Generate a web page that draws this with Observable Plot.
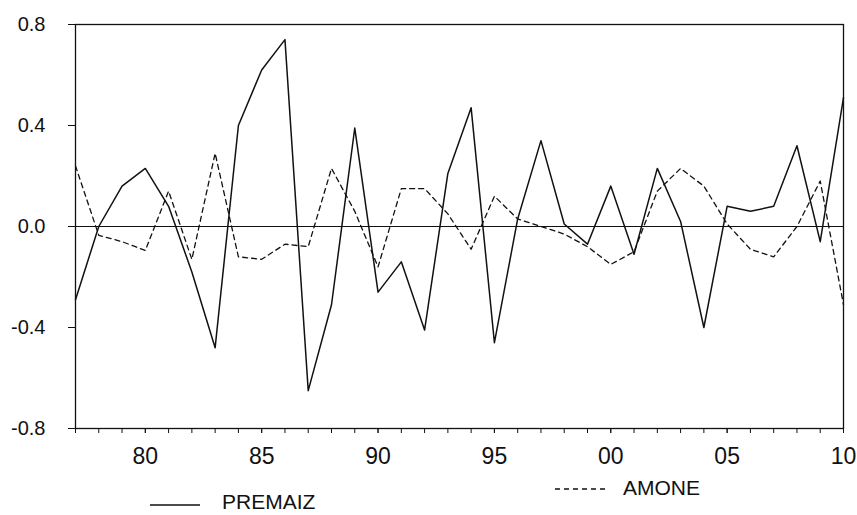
<!DOCTYPE html>
<html><head><meta charset="utf-8">
<script src="https://cdn.jsdelivr.net/npm/d3@7"></script>
<script src="https://cdn.jsdelivr.net/npm/@observablehq/plot@0.6"></script>
<style>
body{margin:0;background:#fff;}
#legend{position:relative;height:45px;width:857px;font-family:"Liberation Sans",Arial,sans-serif;font-size:21px;color:#111;}
#legend .sw{position:absolute;}
#legend .lbl{position:absolute;line-height:1;white-space:nowrap;}
</style>
</head><body>
<div id="chart"></div>
<div id="legend"></div>
<script>
const years = [1977,1978,1979,1980,1981,1982,1983,1984,1985,1986,1987,1988,1989,1990,1991,1992,1993,1994,1995,1996,1997,1998,1999,2000,2001,2002,2003,2004,2005,2006,2007,2008,2009,2010];
const premaiz = [-0.29,0.00,0.16,0.23,0.08,-0.18,-0.48,0.40,0.62,0.74,-0.65,-0.31,0.39,-0.26,-0.14,-0.41,0.21,0.47,-0.46,0.03,0.34,0.01,-0.07,0.16,-0.11,0.23,0.02,-0.40,0.08,0.06,0.08,0.32,-0.06,0.51];
const amone = [0.24,-0.035,-0.06,-0.095,0.14,-0.13,0.29,-0.12,-0.13,-0.07,-0.08,0.23,0.06,-0.16,0.15,0.15,0.05,-0.09,0.12,0.03,0.00,-0.03,-0.08,-0.15,-0.10,0.14,0.23,0.16,0.01,-0.09,-0.12,0.00,0.18,-0.31];
const yTicks = [-0.8,-0.4,0.0,0.4,0.8];
const xLabelTicks = [1980,1985,1990,1995,2000,2005,2010];
const seriesNames = ["PREMAIZ","AMONE"];

const rows = years.map((y,i)=>({year:y, premaiz:premaiz[i], amone:amone[i]}));

const chart = Plot.plot({
  width: 857,
  height: 470,
  marginLeft: 75,
  marginRight: 14,
  marginTop: 24,
  marginBottom: 42,
  style: {fontFamily: "'Liberation Sans', Arial, sans-serif", background: "#fff", color: "#111"},
  x: {domain: [1977, 2010]},
  y: {domain: [-0.8, 0.8]},
  marks: [
    Plot.frame({stroke: "#111", strokeWidth: 1.3}),
    Plot.ruleY([0], {stroke: "#111", strokeWidth: 1.1}),
    Plot.axisY({ticks: yTicks, tickSize: 7, tickPadding: 23, tickFormat: d => d.toFixed(1), fontSize: 20, label: null, stroke: "#111"}),
    Plot.axisX({ticks: years, tickSize: 5, tickFormat: () => "", label: null, stroke: "#111"}),
    Plot.axisX({ticks: xLabelTicks, tickSize: 5, tickPadding: 14, tickFormat: d => String(d % 100).padStart(2, "0"), fontSize: 23, label: null, stroke: "#111"}),
    Plot.line(rows, {x: "year", y: "amone", stroke: "#111", strokeWidth: 1.3, strokeDasharray: "5,4"}),
    Plot.line(rows, {x: "year", y: "premaiz", stroke: "#111", strokeWidth: 1.5})
  ]
});
document.getElementById("chart").appendChild(chart);

const legend = document.getElementById("legend");
const items = [
  {name: seriesNames[0], dash: null, lineLeft: 150, lineY: 35, textLeft: 222, textTop: 21},
  {name: seriesNames[1], dash: "5,4", lineLeft: 555, lineY: 19, textLeft: 623, textTop: 7}
];
for (const it of items) {
  const sw = document.createElement("div");
  sw.className = "sw";
  sw.style.left = it.lineLeft + "px";
  sw.style.top = (it.lineY - 5) + "px";
  sw.innerHTML = `<svg width="50" height="10" style="display:block"><line x1="0" y1="5" x2="50" y2="5" stroke="#111" stroke-width="1.3" ${it.dash ? `stroke-dasharray="${it.dash}"` : ""}/></svg>`;
  legend.appendChild(sw);
  const lbl = document.createElement("div");
  lbl.className = "lbl";
  lbl.style.left = it.textLeft + "px";
  lbl.style.top = it.textTop + "px";
  lbl.textContent = it.name;
  legend.appendChild(lbl);
}
</script>
</body></html>
